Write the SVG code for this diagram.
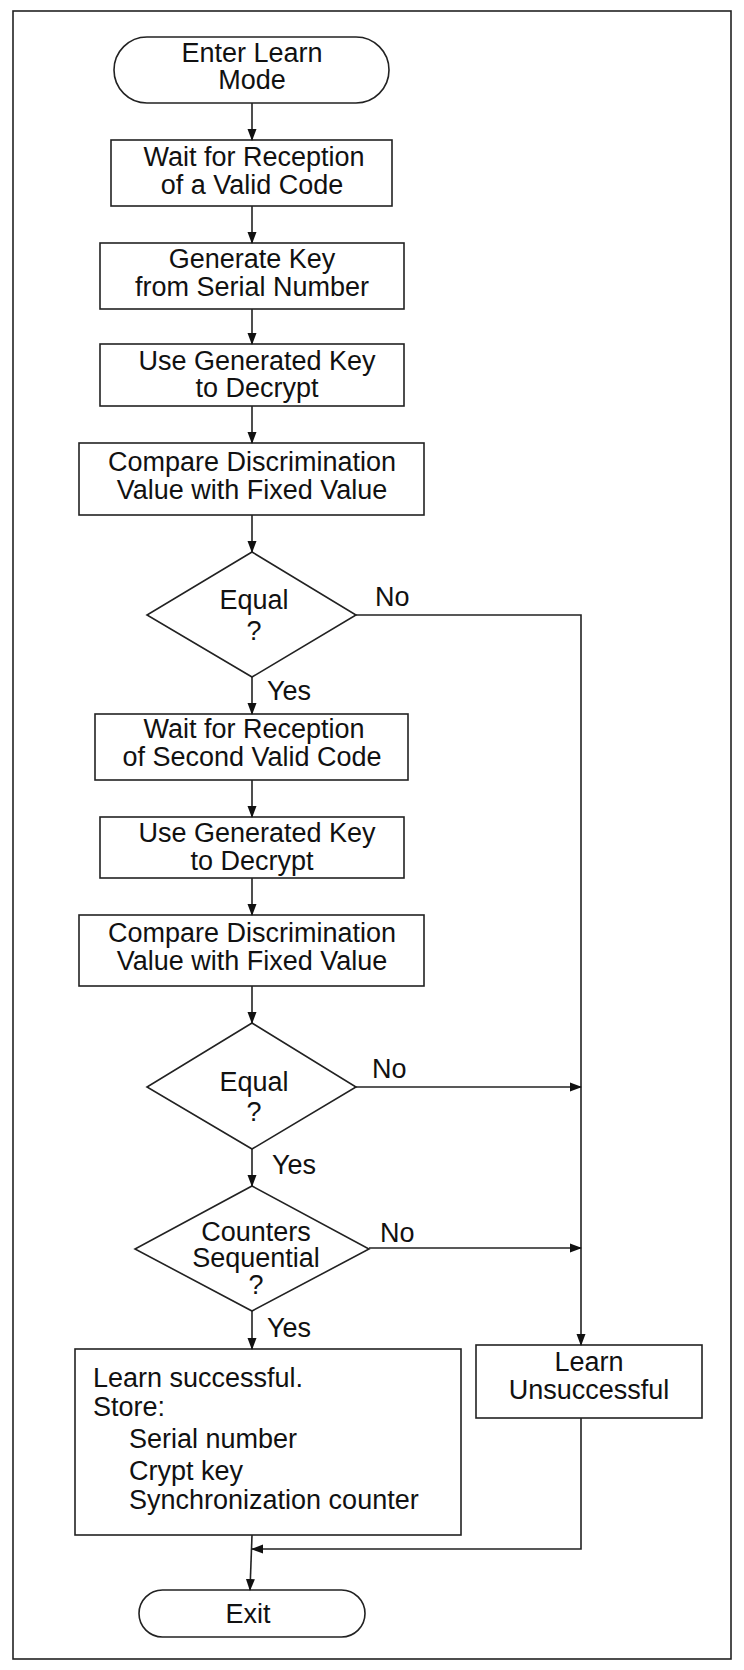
<svg xmlns="http://www.w3.org/2000/svg" width="744" height="1670" viewBox="0 0 744 1670">
<style>
.s{fill:#fff;stroke:#222;stroke-width:1.6}
.c{fill:none;stroke:#222;stroke-width:1.6}
text{font-family:"Liberation Sans",Arial,sans-serif;font-size:27px;fill:#111}
.m{text-anchor:middle}
</style>
<defs><marker id="a" markerWidth="12" markerHeight="20" refX="11" refY="6" orient="auto" markerUnits="userSpaceOnUse" viewBox="0 0 12 12"><path d="M0,1.5 L12,6 L0,10.5z" fill="#111"/></marker></defs>
<rect x="0" y="0" width="744" height="1670" fill="#fff"/>
<rect x="13" y="11" width="718" height="1648" class="c"/>
<g id="start"><rect x="114" y="37" width="275" height="66" rx="33" class="s"/><text x="252" y="62" class="m">Enter Learn</text><text x="252" y="89" class="m">Mode</text></g>
<g id="wait1"><rect x="111" y="140" width="281" height="66" class="s"/><text x="254" y="166" class="m">Wait for Reception</text><text x="252" y="194" class="m">of a Valid Code</text></g>
<g id="gen"><rect x="100" y="243" width="304" height="66" class="s"/><text x="252" y="268" class="m">Generate Key</text><text x="252" y="296" class="m">from Serial Number</text></g>
<g id="dec1"><rect x="100" y="344" width="304" height="62" class="s"/><text x="257" y="370" class="m">Use Generated Key</text><text x="257" y="397" class="m">to Decrypt</text></g>
<g id="cmp1"><rect x="79" y="443" width="345" height="72" class="s"/><text x="252" y="471" class="m">Compare Discrimination</text><text x="252" y="499" class="m">Value with Fixed Value</text></g>
<g id="eq1"><polygon points="252,552 356,615 252,677 147,615" class="s"/><text x="254" y="609" class="m">Equal</text><text x="254" y="640" class="m">?</text></g>
<g id="wait2"><rect x="95" y="714" width="313" height="66" class="s"/><text x="254" y="738" class="m">Wait for Reception</text><text x="252" y="766" class="m">of Second Valid Code</text></g>
<g id="dec2"><rect x="100" y="817" width="304" height="61" class="s"/><text x="257" y="842" class="m">Use Generated Key</text><text x="252" y="870" class="m">to Decrypt</text></g>
<g id="cmp2"><rect x="79" y="915" width="345" height="71" class="s"/><text x="252" y="942" class="m">Compare Discrimination</text><text x="252" y="970" class="m">Value with Fixed Value</text></g>
<g id="eq2"><polygon points="252,1023 356,1087 252,1149 147,1087" class="s"/><text x="254" y="1091" class="m">Equal</text><text x="254" y="1121" class="m">?</text></g>
<g id="ctr"><polygon points="252,1186 369,1249 252,1311 135,1249" class="s"/><text x="256" y="1241" class="m">Counters</text><text x="256" y="1267" class="m">Sequential</text><text x="256" y="1294" class="m">?</text></g>
<g id="ok"><rect x="75" y="1349" width="386" height="186" class="s"/><text x="93" y="1387">Learn successful.</text><text x="93" y="1416">Store:</text><text x="129" y="1448">Serial number</text><text x="129" y="1480">Crypt key</text><text x="129" y="1509">Synchronization counter</text></g>
<g id="fail"><rect x="476" y="1345" width="226" height="73" class="s"/><text x="589" y="1371" class="m">Learn</text><text x="589" y="1399" class="m">Unsuccessful</text></g>
<g id="exit"><rect x="139" y="1590" width="226" height="47" rx="23.5" class="s"/><text x="248" y="1623" class="m">Exit</text></g>
<g id="connectors">
<path d="M252,103 V140" class="c" marker-end="url(#a)"/>
<path d="M252,206 V243" class="c" marker-end="url(#a)"/>
<path d="M252,309 V344" class="c" marker-end="url(#a)"/>
<path d="M252,406 V443" class="c" marker-end="url(#a)"/>
<path d="M252,515 V552" class="c" marker-end="url(#a)"/>
<path d="M252,677 V714" class="c" marker-end="url(#a)"/>
<path d="M252,780 V817" class="c" marker-end="url(#a)"/>
<path d="M252,878 V915" class="c" marker-end="url(#a)"/>
<path d="M252,986 V1023" class="c" marker-end="url(#a)"/>
<path d="M252,1149 V1186" class="c" marker-end="url(#a)"/>
<path d="M252,1311 V1349" class="c" marker-end="url(#a)"/>
<path d="M356,615 H581 V1345" class="c" marker-end="url(#a)"/>
<path d="M356,1087 H581" class="c" marker-end="url(#a)"/>
<path d="M369,1248 H581" class="c" marker-end="url(#a)"/>
<path d="M581,1418 V1549 H252" class="c" marker-end="url(#a)"/>
<path d="M252,1535 L250,1590" class="c" marker-end="url(#a)"/>
<text x="375" y="606">No</text>
<text x="267" y="700">Yes</text>
<text x="372" y="1078">No</text>
<text x="272" y="1174">Yes</text>
<text x="380" y="1242">No</text>
<text x="267" y="1337">Yes</text>
</g>
</svg>
